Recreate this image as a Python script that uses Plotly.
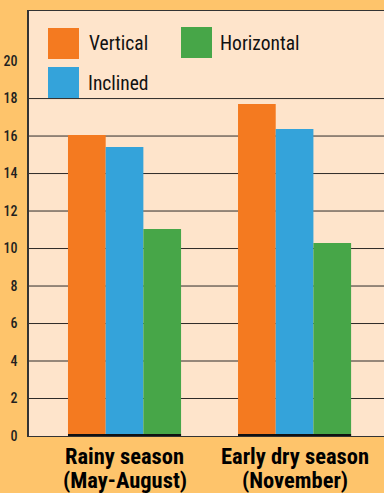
import plotly.graph_objects as go

categories = ["Rainy season<br>(May-August)", "Early dry season<br>(November)"]
series_names = ["Vertical", "Inclined", "Horizontal"]
vertical = [16.05, 17.71]
inclined = [15.41, 16.37]
horizontal = [11.04, 10.29]
tick_values = [0, 2, 4, 6, 8, 10, 12, 14, 16, 18, 20]
grid_values = [2, 4, 6, 8, 10, 12, 14, 16, 18]

colors = {"Vertical": "#F47A20", "Inclined": "#34A3DA", "Horizontal": "#47A648"}
series = {"Vertical": vertical, "Inclined": inclined, "Horizontal": horizontal}

W, H = 384, 493
ML, MR, MT, MB = 29, 0, 11, 57
PW, PH = W - ML - MR, H - MT - MB
YMAX = 22.67
BARGAP = 0.335

FONT = "Roboto Condensed, DejaVu Sans Condensed, sans-serif"
INK = "#231F20"

fig = go.Figure()
xs = list(range(len(categories)))
for name in series_names:
    fig.add_trace(go.Bar(x=xs, y=series[name], name=name,
                         marker=dict(color=colors[name], line=dict(width=0)),
                         showlegend=False))

# gridlines (no line at 20 in the reference)
for v in grid_values:
    fig.add_shape(type="line", xref="paper", x0=0, x1=1, yref="y", y0=v, y1=v,
                  line=dict(color="#2E2A28", width=1), layer="below")

# thick baseline under each bar group
half = (1 - BARGAP) / 2
for i in xs:
    fig.add_shape(type="line", xref="x", x0=i - half, x1=i + half, yref="y", y0=0, y1=0,
                  line=dict(color="#111111", width=4), layer="above")

# category labels (two tightly spaced lines, like the reference)
for i, cat in zip(xs, categories):
    for k, line in enumerate(cat.split("<br>")):
        fig.add_annotation(xref="x", yref="y", x=i, y=0, text=line, showarrow=False,
                           xanchor="center", yanchor="middle", yshift=-20 - 24 * k,
                           font=dict(family=FONT, size=22.5, color="#000000", weight="bold"))

# manual legend with large swatches
def px_x(p):
    return (p - ML) / PW

def px_y(p):
    return (H - MB - p) / PH

legend_pos = {"Vertical": (48, 28, 87, 44), "Horizontal": (181, 27, 218, 43), "Inclined": (48, 67, 86, 83)}
for name in series_names:
    sx, sy, tx, ty = legend_pos[name]
    fig.add_shape(type="rect", xref="paper", yref="paper",
                  x0=px_x(sx), x1=px_x(sx + 31), y0=px_y(sy + 31), y1=px_y(sy),
                  fillcolor=colors[name], line=dict(width=0), layer="above")
    fig.add_annotation(xref="paper", yref="paper", x=px_x(tx), y=px_y(ty), text=name,
                       showarrow=False, xanchor="left", yanchor="middle",
                       font=dict(family=FONT, size=19.5, color="#111111"))

fig.update_layout(
    width=W, height=H,
    margin=dict(l=ML, r=MR, t=MT, b=MB, pad=0),
    paper_bgcolor="#FEC46B",
    plot_bgcolor="#FEE4CB",
    barmode="group", bargap=BARGAP, bargroupgap=0,
    showlegend=False,
    xaxis=dict(range=[-0.5618, 1.526], tickvals=xs, showticklabels=False,
               showgrid=False, zeroline=False, showline=True, linecolor="#333333", linewidth=1.2,
               mirror=True, ticks="", automargin=False),
    yaxis=dict(range=[0, YMAX], tickvals=tick_values, ticktext=[str(v) for v in tick_values],
               showgrid=False, zeroline=False, showline=True, linecolor="#333333", linewidth=1.5,
               ticks="", ticklabelstandoff=7, automargin=False,
               tickfont=dict(family=FONT, size=14, color=INK, weight=500)),
)

fig.write_html("out.html")
